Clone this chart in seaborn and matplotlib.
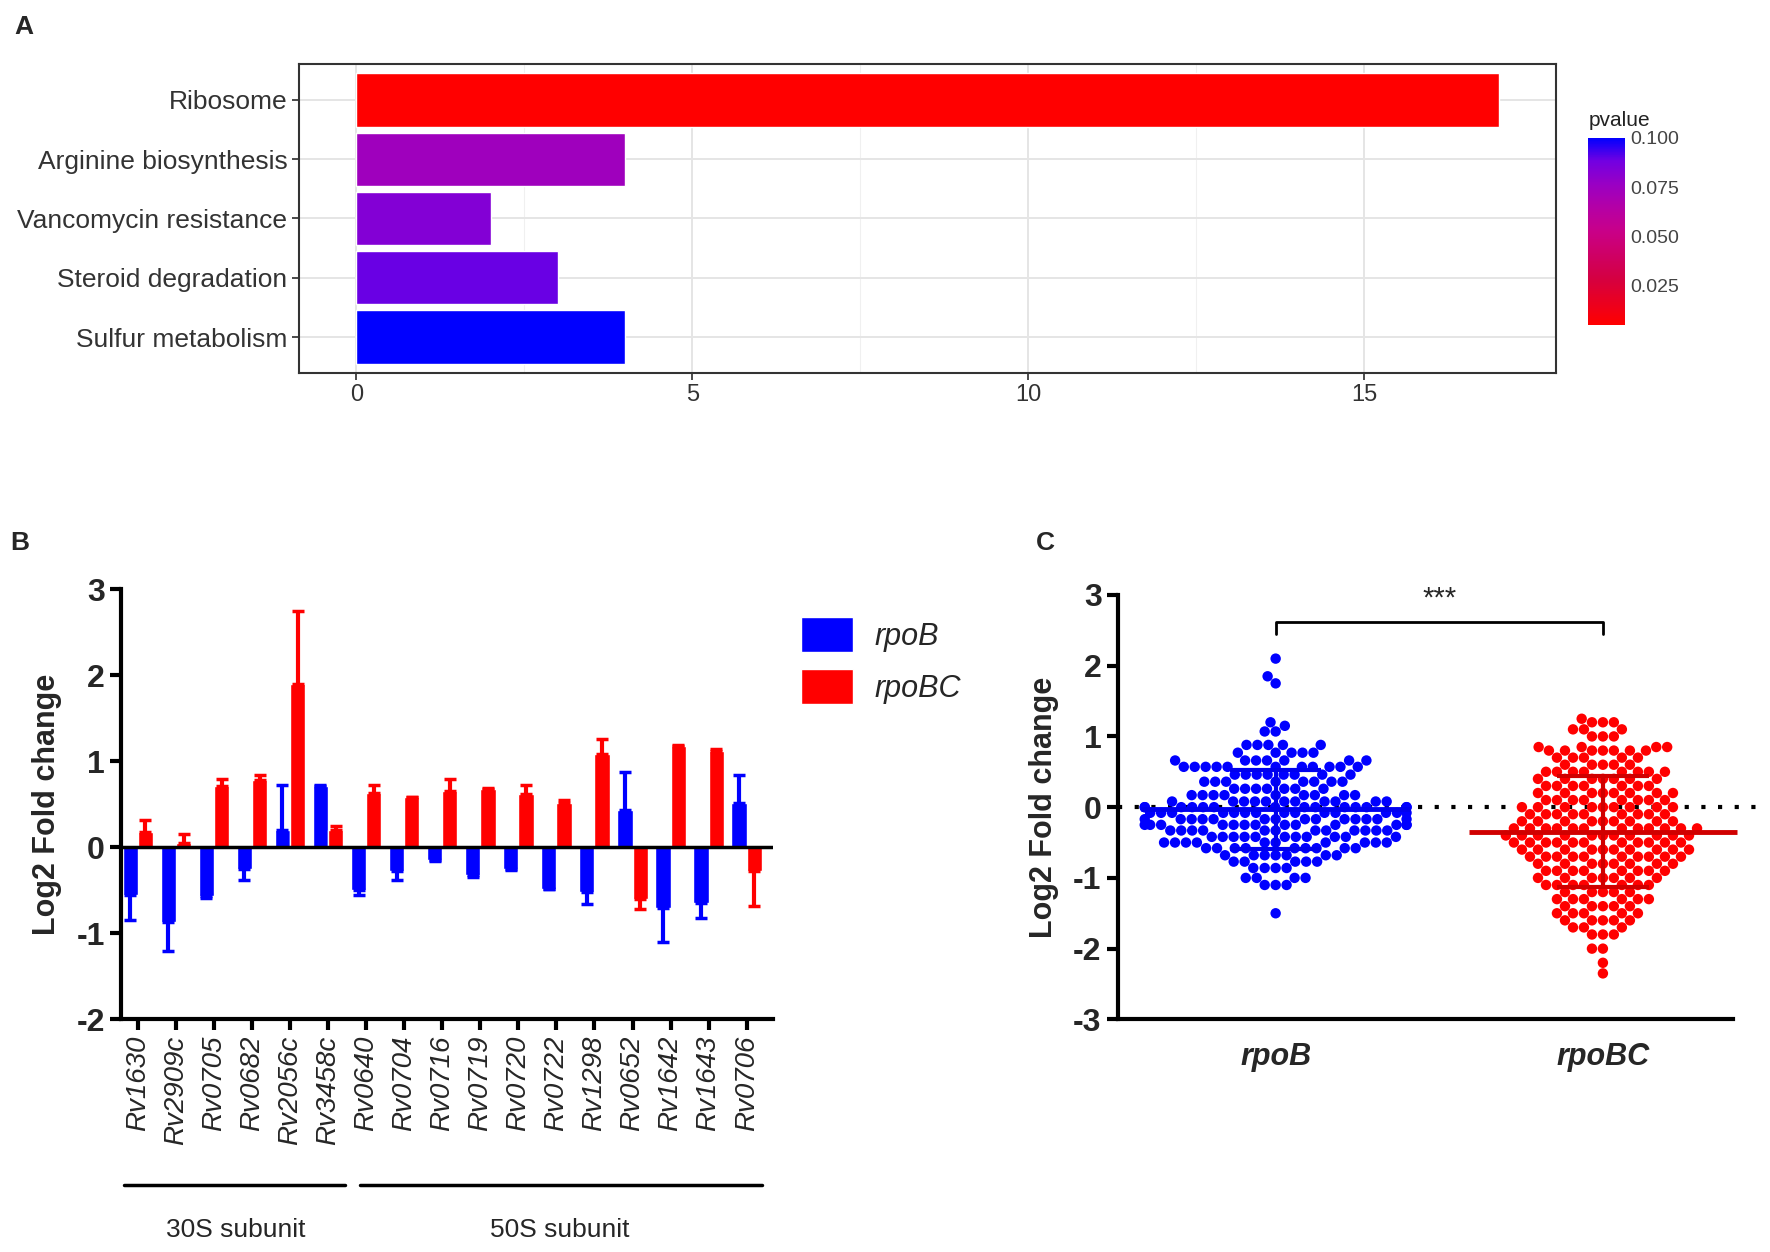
import numpy as np
import pandas as pd
import seaborn as sns
import matplotlib.pyplot as plt
import matplotlib.transforms as mtransforms
from matplotlib.colors import LinearSegmentedColormap, Normalize
from matplotlib.cm import ScalarMappable
from matplotlib.patches import Patch

# Panel A: KEGG enrichment
pathways = ['Ribosome', 'Arginine biosynthesis', 'Vancomycin resistance',
            'Steroid degradation', 'Sulfur metabolism']
gene_counts = [17, 4, 2, 3, 4]
pvalues = [0.005, 0.074, 0.083, 0.089, 0.100]

# Panel B: qPCR of ribosomal genes
genes = ['Rv1630', 'Rv2909c', 'Rv0705', 'Rv0682', 'Rv2056c', 'Rv3458c',
         'Rv0640', 'Rv0704', 'Rv0716', 'Rv0719', 'Rv0720', 'Rv0722',
         'Rv1298', 'Rv0652', 'Rv1642', 'Rv1643', 'Rv0706']
rpoB_fc = [-0.55, -0.87, -0.57, -0.25, 0.20, 0.71, -0.50, -0.28, -0.15,
           -0.32, -0.25, -0.48, -0.52, 0.44, -0.70, -0.65, 0.52]
rpoB_err = [0.30, 0.33, 0.02, 0.13, 0.52, 0.01, 0.05, 0.10, 0.01,
            0.02, 0.01, 0.01, 0.14, 0.44, 0.40, 0.17, 0.32]
rpoBC_fc = [0.18, 0.05, 0.71, 0.78, 1.90, 0.20, 0.63, 0.58, 0.65,
            0.68, 0.62, 0.52, 1.08, -0.60, 1.18, 1.12, -0.28]
rpoBC_err = [0.14, 0.10, 0.08, 0.06, 0.85, 0.05, 0.10, 0.01, 0.15,
             0.01, 0.11, 0.03, 0.18, 0.12, 0.01, 0.02, 0.40]

# Panel C: scatter of all genes (row level -> number of dots in that row)
rpoB_levels = [2.1, 1.85, 1.75, 1.2, 1.15, 1.07, 0.88, 0.77, 0.66, 0.57,
               0.46, 0.36, 0.26, 0.17, 0.08, 0.0, -0.08, -0.17, -0.25,
               -0.33, -0.42, -0.5, -0.58, -0.68, -0.77, -0.86, -1.0, -1.1, -1.5]
rpoB_counts = [1, 1, 1, 1, 1, 2, 5, 5, 7, 11,
               8, 8, 7, 9, 11, 14, 14, 14, 13,
               12, 11, 10, 9, 7, 5, 4, 4, 3, 1]
rpoBC_levels = [1.25, 1.2, 1.1, 1.0, 0.85, 0.8, 0.7, 0.6, 0.5, 0.4, 0.3,
                0.2, 0.1, 0.0, -0.1, -0.2, -0.3, -0.4, -0.5, -0.6, -0.7,
                -0.8, -0.9, -1.0, -1.1, -1.2, -1.3, -1.4, -1.5, -1.6, -1.7,
                -1.8, -2.0, -2.2, -2.35]
rpoBC_counts = [1, 3, 3, 3, 4, 7, 5, 5, 8, 7, 7,
                8, 8, 9, 9, 9, 12, 11, 11, 10, 10,
                8, 8, 7, 7, 5, 6, 5, 5, 5, 3,
                3, 2, 1, 1]

BLUE = '#0000FF'
RED = '#FF0000'

sns.set_theme(style='ticks')
plt.rcParams['font.family'] = ['Liberation Sans', 'DejaVu Sans']

fig = plt.figure(figsize=(17.7, 12.52), dpi=100)

# ---------------- Panel A ----------------
cmap = LinearSegmentedColormap.from_list(
    'pv', [(0, '#FF0000'), (0.25, '#D40042'), (0.5, '#C90088'), (0.625, '#B500A5'),
           (0.75, '#9A00C3'), (0.875, '#7300E1'), (1, '#0000FF')])
norm = Normalize(vmin=min(pvalues), vmax=max(pvalues))

ax_a = fig.add_axes([0.169, 0.7024, 0.710, 0.2462])
df_a = pd.DataFrame({'pathway': pathways, 'count': gene_counts, 'pvalue': pvalues})
sns.barplot(data=df_a, x='count', y='pathway', hue='pathway',
            palette=[cmap(norm(p)) for p in pvalues], saturation=1,
            width=0.9, legend=False, ax=ax_a)
ax_a.set_xlim(-0.85, 17.85)
ax_a.set_ylim(4.6, -0.6)
ax_a.set_xticks([0, 5, 10, 15])
ax_a.set_xticks([2.5, 7.5, 12.5], minor=True)
ax_a.grid(which='major', color='#E5E5E5', lw=1.4)
ax_a.grid(which='minor', axis='x', color='#F0F0F0', lw=0.8)
ax_a.set_axisbelow(True)
for s in ax_a.spines.values():
    s.set_color('#333333')
    s.set_linewidth(1.5)
ax_a.tick_params(which='major', labelsize=19, labelcolor='#333333', color='#333333', length=5)
ax_a.tick_params(axis='x', labelsize=17)
ax_a.tick_params(which='minor', length=0)
ax_a.set_xlabel('')
ax_a.set_ylabel('')

cax = fig.add_axes([0.8973, 0.7403, 0.021, 0.1497])
cb = fig.colorbar(ScalarMappable(norm=norm, cmap=cmap), cax=cax)
cb.set_ticks([0.025, 0.05, 0.075, 0.1])
cb.ax.set_yticklabels(['0.025', '0.050', '0.075', '0.100'])
cb.outline.set_visible(False)
cb.ax.tick_params(color='white', direction='in', length=5, width=1.2,
                  labelsize=14, labelcolor='#444444')
cax.text(0, 1.04, 'pvalue', transform=cax.transAxes, ha='left', va='bottom',
         fontsize=15, color='#222222')

# ---------------- Panel B ----------------
ax_b = fig.add_axes([0.0682, 0.1858, 0.3687, 0.3435])
df_b = pd.DataFrame({'gene': genes * 2,
                     'strain': ['rpoB'] * len(genes) + ['rpoBC'] * len(genes),
                     'fc': rpoB_fc + rpoBC_fc})
sns.barplot(data=df_b, x='gene', y='fc', hue='strain',
            palette={'rpoB': BLUE, 'rpoBC': RED}, saturation=1, width=0.8,
            errorbar=None, legend=False, ax=ax_b)
for cont, errs, col in zip(ax_b.containers, [rpoB_err, rpoBC_err], [BLUE, RED]):
    for bar, e in zip(cont, errs):
        h = bar.get_height()
        xc = bar.get_x() + bar.get_width() / 2
        yerr = [[0], [e]] if h >= 0 else [[e], [0]]
        ax_b.errorbar(xc, h, yerr=yerr, fmt='none', ecolor=col,
                      elinewidth=3, capsize=4, capthick=2.5, zorder=1)
ax_b.axhline(0, color='black', lw=2.5, zorder=4)
ax_b.set_xlim(-0.45, 16.7)
ax_b.set_ylim(-2, 3)
ax_b.set_yticks([-2, -1, 0, 1, 2, 3])
ax_b.set_yticklabels(['-2', '-1', '0', '1', '2', '3'], fontsize=23, fontweight='bold')
ax_b.set_xticks(range(len(genes)))
ax_b.set_xticklabels(genes, rotation=90, fontsize=20, style='italic')
ax_b.tick_params(axis='both', width=3, length=8, color='black')
for side in ['left', 'bottom']:
    ax_b.spines[side].set_linewidth(3)
    ax_b.spines[side].set_color('black')
sns.despine(ax=ax_b)
ax_b.set_xlabel('')
ax_b.set_ylabel('Log2 Fold change', fontsize=22, fontweight='bold', labelpad=10)

ax_b.legend(handles=[Patch(facecolor=BLUE), Patch(facecolor=RED)],
            labels=['rpoB', 'rpoBC'], loc='upper left', bbox_to_anchor=(1.0, 1.0),
            frameon=False, handlelength=1.7, handleheight=1.4, handletextpad=0.7,
            labelspacing=0.55, prop={'style': 'italic', 'size': 22})

trans = mtransforms.blended_transform_factory(ax_b.transData, ax_b.transAxes)
ax_b.plot([-0.36, 5.45], [-0.386, -0.386], transform=trans, color='black', lw=2.5, clip_on=False)
ax_b.plot([5.83, 16.4], [-0.386, -0.386], transform=trans, color='black', lw=2.5, clip_on=False)
ax_b.text(2.56, -0.49, '30S subunit', transform=trans, ha='center', va='center', fontsize=19)
ax_b.text(11.1, -0.49, '50S subunit', transform=trans, ha='center', va='center', fontsize=19)

# ---------------- Panel C ----------------
ax_c = fig.add_axes([0.6314, 0.1858, 0.3635, 0.339])
vals_b = np.repeat(rpoB_levels, rpoB_counts)
vals_bc = np.repeat(rpoBC_levels, rpoBC_counts)
df_c = pd.DataFrame({'group': ['rpoB'] * len(vals_b) + ['rpoBC'] * len(vals_bc),
                     'value': np.concatenate([vals_b, vals_bc])})
ax_c.axhline(0, color='black', lw=3, ls=(0, (1, 3)), zorder=1)
sns.swarmplot(data=df_c, x='group', y='value', hue='group',
              palette={'rpoB': BLUE, 'rpoBC': RED}, size=7.5, legend=False,
              ax=ax_c, zorder=2)
stats = df_c.groupby('group')['value'].agg(['mean', 'std'])
for i, (g, col) in enumerate([('rpoB', '#0000EE'), ('rpoBC', '#D00000')]):
    m, sd = stats.loc[g, 'mean'], stats.loc[g, 'std']
    ax_c.hlines(m, i - 0.41, i + 0.41, color=col, lw=3.5, zorder=5)
    ax_c.hlines([m - sd, m + sd], i - 0.14, i + 0.14, color=col, lw=3, zorder=5)
    ax_c.vlines(i, m - sd, m + sd, color=col, lw=3, zorder=5)

ax_c.plot([0, 0, 1, 1], [2.45, 2.62, 2.62, 2.45], color='black', lw=2)
ax_c.text(0.5, 2.75, '***', ha='center', va='bottom', fontsize=21)

ax_c.set_xlim(-0.483, 1.483)
ax_c.set_ylim(-3, 3)
ax_c.set_yticks([-3, -2, -1, 0, 1, 2, 3])
ax_c.set_yticklabels(['-3', '-2', '-1', '0', '1', '2', '3'], fontsize=23, fontweight='bold')
ax_c.set_xticks([0, 1])
ax_c.set_xticklabels(['rpoB', 'rpoBC'], fontsize=22, fontweight='bold', style='italic')
ax_c.tick_params(axis='y', width=3, length=8, color='black')
ax_c.tick_params(axis='x', length=0, pad=16)
sns.despine(ax=ax_c)
for side in ['left', 'bottom']:
    ax_c.spines[side].set_linewidth(3)
    ax_c.spines[side].set_color('black')
ax_c.spines['bottom'].set_bounds(-0.483, 1.397)
ax_c.set_xlabel('')
ax_c.set_ylabel('Log2 Fold change', fontsize=22, fontweight='bold', labelpad=10)

# panel letters
fig.text(0.008, 0.988, 'A', fontsize=19, fontweight='bold', va='top')
fig.text(0.006, 0.576, 'B', fontsize=19, fontweight='bold', va='top')
fig.text(0.585, 0.576, 'C', fontsize=19, fontweight='bold', va='top')

fig.savefig('out.png', dpi=100)
